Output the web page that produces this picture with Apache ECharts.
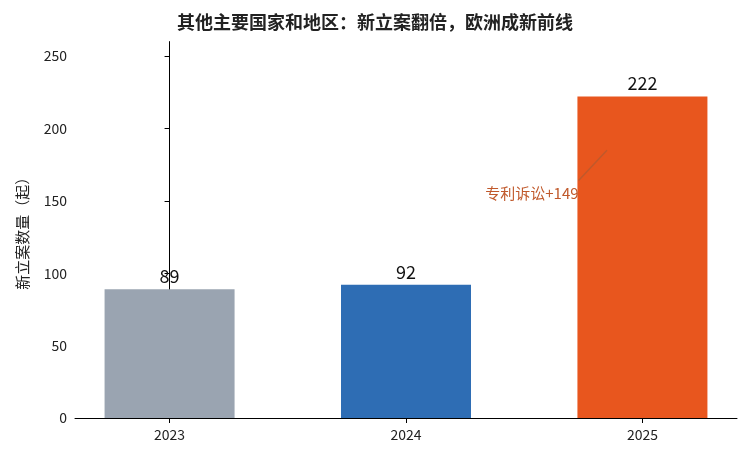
<!DOCTYPE html>
<html><head><meta charset="utf-8">
<script src="https://cdn.jsdelivr.net/npm/echarts@6/dist/echarts.min.js"></script>
<style>html,body{margin:0;padding:0;background:#fff}#c{width:750px;height:459px}</style>
</head><body><div id="c"></div>
<script>
const categories = ['2023','2024','2025'];
const values = [89, 92, 222];
const colors = ['#9aa4b1','#2e6db4','#e8561e'];
const yTicks = [0,50,100,150,200,250];
const chart = echarts.init(document.getElementById('c'));
const F = '"Noto Sans CJK SC","Noto Sans",sans-serif';
chart.setOption({
  animation:false,
  title:{text:'其他主要国家和地区：新立案翻倍，欧洲成新前线',left:'center',top:8,
    textStyle:{fontFamily:F,fontSize:18,fontWeight:'bold',color:'#222'}},
  grid:{left:75,right:13,top:41.6,bottom:41},
  xAxis:{type:'value',min:-0.4,max:2.4,splitLine:{show:false},
    axisLine:{lineStyle:{color:'#000'}},
    axisTick:{customValues:[0,1,2],lineStyle:{color:'#000'}},
    axisLabel:{customValues:[0,1,2],formatter:v=>categories[Math.round(v)],color:'#222',fontSize:14,fontFamily:F,margin:10}},
  yAxis:{type:'value',min:0,max:260,interval:50,splitLine:{show:false},
    axisLine:{show:true,lineStyle:{color:'#000'}},axisTick:{show:true,customValues:yTicks,lineStyle:{color:'#000'}},
    axisLabel:{customValues:yTicks,color:'#222',fontSize:14,fontFamily:F},
    name:'新立案数量（起）',nameLocation:'middle',nameGap:45,nameRotate:90,
    nameTextStyle:{fontFamily:F,fontSize:15,color:'#222'}},
  series:[{type:'bar',barWidth:130,
    data:values.map((v,i)=>({value:[i,v],itemStyle:{color:colors[i]}})),
    label:{show:true,position:'top',formatter:p=>p.value[1],fontSize:18,color:'#111',fontFamily:F,distance:4},
    markLine:{silent:true,symbol:['none','none'],label:{show:false},
      lineStyle:{color:'#c0592b',width:1.5,type:'solid'},
      data:[[{coord:[1.73,164]},{coord:[1.85,185]}]]},
    markPoint:{symbolSize:0,data:[{coord:[1.73,155],label:{show:true,formatter:'专利诉讼+149',position:'left',distance:0,
      color:'#c0592b',fontSize:15,fontFamily:F}}]}
  }]
});
</script></body></html>
